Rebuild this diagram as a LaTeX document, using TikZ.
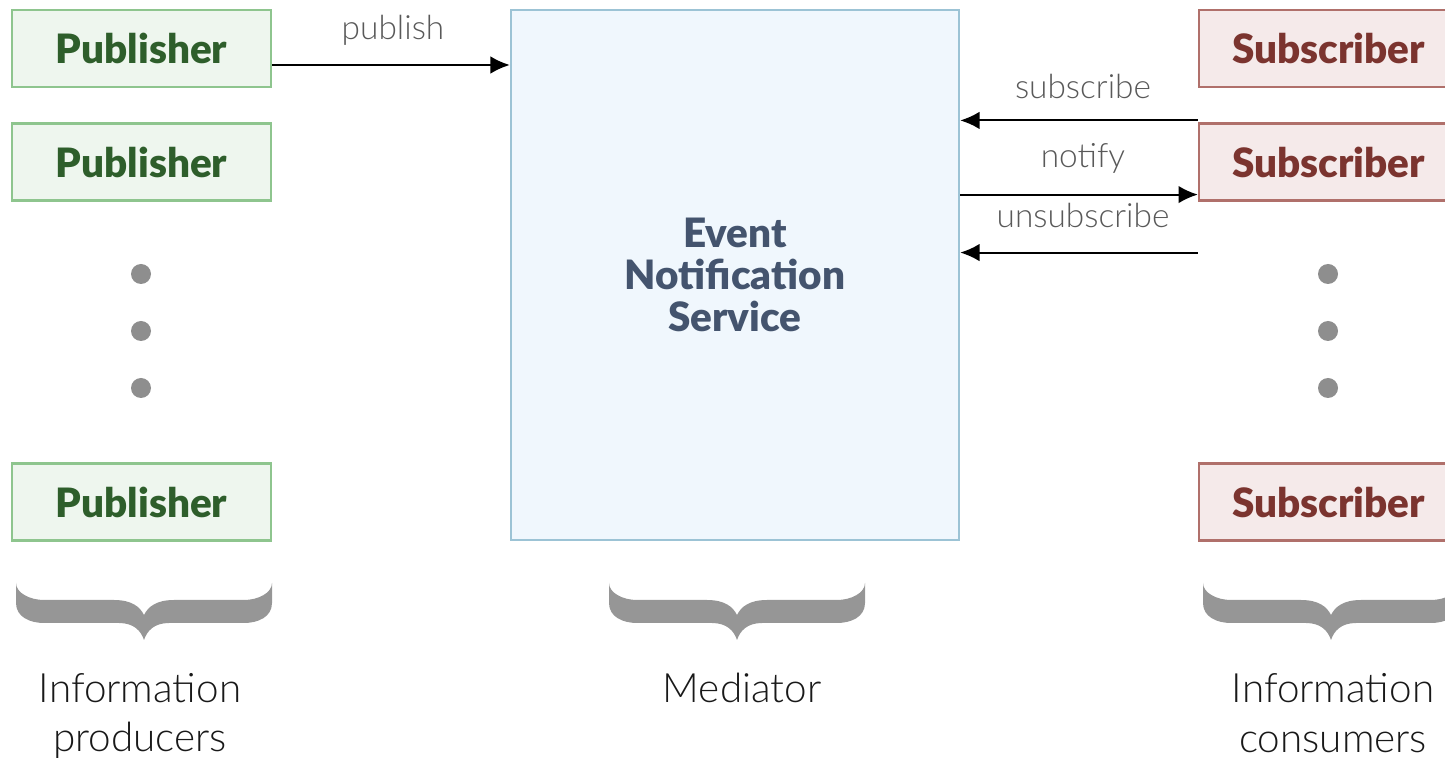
\documentclass[tikz,border=0pt]{standalone}
\usepackage{fontspec}
\setmainfont{Lato}
\newfontfamily\heavyfont{Lato}[UprightFont=* Black]
\newfontfamily\lightfont{Lato}[UprightFont=* Light]
\usetikzlibrary{calc}
\usetikzlibrary{arrows.meta}

\definecolor{pubfill}{HTML}{EEF6EE}
\definecolor{publine}{HTML}{8EC58E}
\definecolor{pubtext}{HTML}{2E5E2B}
\definecolor{subfill}{HTML}{F5EAEA}
\definecolor{subline}{HTML}{B0706B}
\definecolor{subtext}{HTML}{7B342F}
\definecolor{medfill}{HTML}{F0F7FD}
\definecolor{medline}{HTML}{9CC3D5}
\definecolor{medtext}{HTML}{44546E}
\definecolor{dotgray}{HTML}{8E8E8E}
\definecolor{bracegray}{HTML}{969696}

% filled curly brace, centre x and top y
\newcommand{\fatbrace}[2]{%
  \fill[bracegray] (#1,#2) ++(-128,0) -- ++(0,20)
    .. controls ++(0,14) and ++(-14,0) .. ++(28,20) -- ++(75,0)
    .. controls ++(15,0) and ++(-3,-9) .. ++(25,17)
    .. controls ++(3,-9) and ++(-15,0) .. ++(25,-17) -- ++(75,0)
    .. controls ++(14,0) and ++(0,14) .. ++(28,-20) -- ++(0,-20)
    .. controls ++(0,10) and ++(14,0) .. ++(-28,17) -- ++(-70,0)
    .. controls ++(-18,0) and ++(4,-8) .. ++(-30,15)
    .. controls ++(-4,-8) and ++(18,0) .. ++(-30,-15) -- ++(-70,0)
    .. controls ++(-14,0) and ++(0,10) .. ++(-28,-17) -- cycle;}

\begin{document}
\begin{tikzpicture}[x=0.01cm, y=-0.01cm]

		\useasboundingbox (0,0) rectangle (1445,758);

		\tikzset{box/.style={draw, line width=0.6pt, minimum width=2.59cm, minimum height=0.77cm, inner sep=0pt, font=\heavyfont\fontsize{11.5}{13}\selectfont},
			pubbox/.style={box, fill=pubfill, draw=publine, text=pubtext},
			subbox/.style={box, fill=subfill, draw=subline, text=subtext},
			msg/.style={font=\lightfont\fontsize{9.5}{11}\selectfont, text=black!65},
			role/.style={font=\lightfont\fontsize{11.5}{14.2}\selectfont, align=center, text=black!90},
			flow/.style={-{Latex[length=5.5pt, width=5pt]}, line width=0.6pt}}

		% producers
		\node[pubbox] (pub1) at (141.5,48.5) {Publisher};
		\node[pubbox] (pub2) at (141.5,162) {Publisher};
		\node[pubbox] (pub3) at (141.5,502) {Publisher};

		% consumers (cut at the right edge)
		\node[subbox] (sub1) at (1328.5,48.5) {Subscriber};
		\node[subbox] (sub2) at (1328.5,162) {Subscriber};
		\node[subbox] (sub3) at (1328.5,502) {Subscriber};

		% mediator
		\node[draw=medline, fill=medfill, line width=0.6pt, minimum width=4.48cm, minimum height=5.3cm, inner sep=0pt,
			text=medtext, align=center, font=\heavyfont\fontsize{11.5}{12}\selectfont] (med) at (735,275)
			{Event\\Notification\\Service};

		\foreach \y in {274,331,388}{
			\fill[dotgray] (141,\y) circle (10);
			\fill[dotgray] (1328,\y) circle (10);
		}

		% messages
		\draw[flow] (pub1.east |- 0,65) -- (med.west |- 0,65);
		\node[msg] (lpub) at (393,30) {publish};

		\coordinate (s1) at ($(sub2.north west)+(0,-2)$);
		\draw[flow] (s1) -- (s1 -| med.east);
		\node[msg] (lsub) at (1083,86) {subscribe};

		\coordinate (s2) at ($(sub2.south west)+(0,-7)$);
		\draw[flow] (s2 -| med.east) -- (s2);
		\node[msg] (lnot) at (1083,158) {notify};

		\coordinate (s3) at ($(sub2.south west)+(0,51)$);
		\draw[flow] (s3) -- (s3 -| med.east);
		\node[msg] (luns) at (1083,215) {unsubscribe};

		% braces and roles
		\fatbrace{144}{583}
		\fatbrace{737}{583}
		\fatbrace{1331}{583}
		\node[role] (prod) at (140,716) {Information\\producers};
		\node[role] (medi) at (742,688) {Mediator};
		\node[role] (cons) at (1333,713) {Information\\consumers};

	\end{tikzpicture}
\end{document}
